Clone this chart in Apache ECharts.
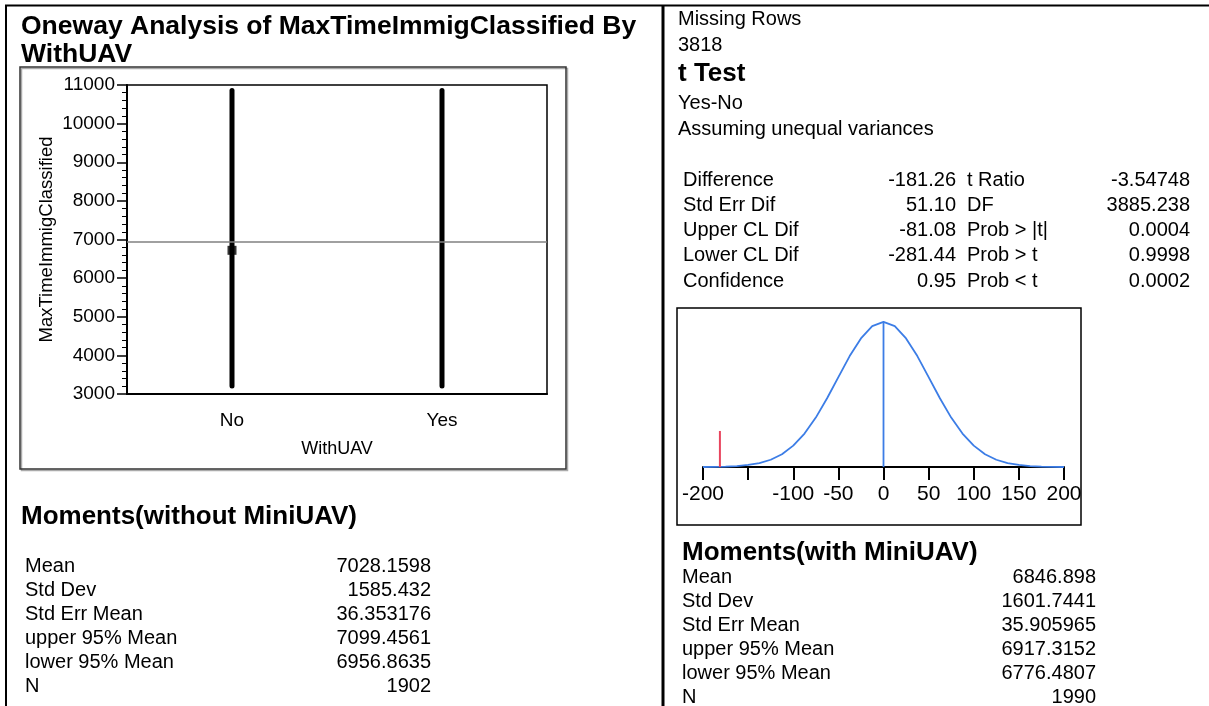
<!DOCTYPE html>
<html><head><meta charset="utf-8">
<script src="https://cdn.jsdelivr.net/npm/echarts@6/dist/echarts.min.js"></script>
<style>html,body{margin:0;padding:0;background:#fff}#c{width:1209px;height:706px}</style>
</head><body><div id="c"></div>
<script>
// ---------- data ----------
const categories = ['No', 'Yes'];
const rangeMin = [3210, 3210];
const rangeMax = [10860, 10860];
const meanMarker = ['No', 6720];
const grandMean = 6940;

const diffX = [-200,-187.5,-175,-162.5,-150,-137.5,-125,-112.5,-100,-87.5,-75,-62.5,-50,-37.5,-25,-12.5,0,
               12.5,25,37.5,50,62.5,75,87.5,100,112.5,125,137.5,150,162.5,175,187.5,200];
const diffDensity = [0,0.00001,0.00002,0.00005,0.00011,0.00021,0.00039,0.00069,0.00115,0.00180,0.00266,0.00370,0.00484,0.00597,0.00692,0.00758,0.00781,
                     0.00758,0.00692,0.00597,0.00484,0.00370,0.00266,0.00180,0.00115,0.00069,0.00039,0.00021,0.00011,0.00005,0.00002,0.00001,0];
const diffTickLabels = {'-200':'-200','-150':'','-100':'-100','-50':'-50','0':'0','50':'50','100':'100','150':'150','200':'200'};
const observedDiff = -181.26;
const observedMarkHeight = 0.00194;
const peakDensity = 0.00781;

const headerLines = ['Missing Rows', '3818'];
const ttestSub = ['Yes-No', 'Assuming unequal variances'];
const ttestLabels1 = ['Difference','Std Err Dif','Upper CL Dif','Lower CL Dif','Confidence'];
const ttestValues1 = ['-181.26','51.10','-81.08','-281.44','0.95'];
const ttestLabels2 = ['t Ratio','DF','Prob > |t|','Prob > t','Prob < t'];
const ttestValues2 = ['-3.54748','3885.238','0.0004','0.9998','0.0002'];
const momentLabels = ['Mean','Std Dev','Std Err Mean','upper 95% Mean','lower 95% Mean','N'];
const momentsWithout = ['7028.1598','1585.432','36.353176','7099.4561','6956.8635','1902'];
const momentsWith = ['6846.898','1601.7441','35.905965','6917.3152','6776.4807','1990'];

// ---------- layout helpers ----------
const FF = '"Liberation Sans", Arial, Helvetica, sans-serif';
function txt(t, x, y, size, opts) {
  opts = opts || {};
  return {type:'text', silent:true, z:10, style:{text:t, x:x, y:y, fontFamily:FF, fontSize:size,
    fontWeight: opts.bold ? 'bold' : 'normal', fill:'#000', align: opts.align || 'left', verticalAlign:'middle'}};
}
function line(x1,y1,x2,y2,w,c){
  return {type:'line', silent:true, z:5, shape:{x1:x1,y1:y1,x2:x2,y2:y2}, style:{stroke:c||'#000', lineWidth:w}};
}

const graphics = [];
// outer frame
graphics.push(line(5,5.5,1209,5.5,2));
graphics.push(line(6,5,6,706,2));
graphics.push(line(663,5,663,706,3));
// left chart box (with light shadow)
graphics.push({type:'rect', silent:true, z:1, shape:{x:21.5,y:68.5,width:546,height:402}, style:{fill:'none', stroke:'#aaa', lineWidth:1.5}});
graphics.push({type:'rect', silent:true, z:2, shape:{x:20,y:67,width:546,height:402}, style:{fill:'none', stroke:'#333', lineWidth:1.5}});
// density box
graphics.push({type:'rect', silent:true, z:2, shape:{x:677,y:308,width:404,height:217}, style:{fill:'none', stroke:'#000', lineWidth:1.5}});

// left titles
graphics.push(txt('Oneway Analysis of MaxTimeImmigClassified By', 21, 27, 26.5, {bold:true}));
graphics.push(txt('WithUAV', 21, 55, 26.5, {bold:true}));
graphics.push(txt('Moments(without MiniUAV)', 21, 517, 26, {bold:true}));
momentLabels.forEach((l,i)=>{
  graphics.push(txt(l, 25, 566 + i*24, 20));
  graphics.push(txt(momentsWithout[i], 431, 566 + i*24, 20, {align:'right'}));
});

// right header
graphics.push(txt(headerLines[0], 678, 19, 20));
graphics.push(txt(headerLines[1], 678, 45, 20));
graphics.push(txt('t Test', 678, 74, 26, {bold:true}));
graphics.push(txt(ttestSub[0], 678, 103, 20));
graphics.push(txt(ttestSub[1], 678, 129, 20));
ttestLabels1.forEach((l,i)=>{
  const y = 180 + i*25.3;
  graphics.push(txt(l, 683, y, 20));
  graphics.push(txt(ttestValues1[i], 956, y, 20, {align:'right'}));
  graphics.push(txt(ttestLabels2[i], 967, y, 20));
  graphics.push(txt(ttestValues2[i], 1190, y, 20, {align:'right'}));
});
graphics.push(txt('Moments(with MiniUAV)', 682, 553, 26, {bold:true}));
momentLabels.forEach((l,i)=>{
  graphics.push(txt(l, 682, 577 + i*24, 20));
  graphics.push(txt(momentsWith[i], 1096, 577 + i*24, 20, {align:'right'}));
});

const chart = echarts.init(document.getElementById('c'), null, {renderer:'canvas'});
chart.setOption({
  animation:false,
  backgroundColor:'#fff',
  textStyle:{fontFamily:FF, color:'#000'},
  grid:[
    {left:127, top:85, width:420, height:309, show:true, borderColor:'#000', borderWidth:1.5, backgroundColor:'transparent'},
    {left:703, top:308, width:361, height:159, show:false}
  ],
  xAxis:[
    {gridIndex:0, type:'category', data:categories, boundaryGap:true,
     axisLine:{lineStyle:{color:'#000', width:2}},
     axisTick:{length:9, lineStyle:{color:'#000', width:1.5}, interval:(i)=> i===1},
     axisLabel:{fontSize:19, color:'#000', margin:17, fontFamily:FF},
     name:'WithUAV', nameLocation:'middle', nameGap:46, nameTextStyle:{fontSize:18, color:'#000', fontFamily:FF}},
    {gridIndex:1, type:'value', min:-200, max:200, interval:50,
     axisLine:{onZero:false, lineStyle:{color:'#000', width:2}},
     axisTick:{length:13, lineStyle:{color:'#000', width:2}},
     splitLine:{show:false},
     axisLabel:{fontSize:21, color:'#000', margin:17, fontFamily:FF, hideOverlap:false,
       showMinLabel:true, showMaxLabel:true, formatter:(v)=> diffTickLabels[String(v)] ?? ''}}
  ],
  yAxis:[
    {gridIndex:0, type:'value', min:3000, max:11000, interval:1000,
     axisLine:{show:true, lineStyle:{color:'#000', width:2}},
     axisTick:{show:true, length:10, lineStyle:{color:'#000', width:1.5}},
     minorTick:{show:true, splitNumber:5, length:5, lineStyle:{color:'#000', width:1}},
     splitLine:{show:false},
     axisLabel:{fontSize:19, color:'#000', margin:12, fontFamily:FF, formatter:(v)=> String(v)},
     name:'MaxTimeImmigClassified', nameLocation:'middle', nameGap:71, nameRotate:90,
     nameTextStyle:{fontSize:18.5, color:'#000', fontFamily:FF}},
    {gridIndex:1, type:'value', min:0, max:0.00856, show:false}
  ],
  series:[
    {type:'line', xAxisIndex:0, yAxisIndex:0, symbol:'none', silent:true,
     data:[[categories[0], rangeMin[0]],[categories[0], rangeMax[0]]],
     lineStyle:{color:'#000', width:5, cap:'round'},
     markLine:{silent:true, symbol:['none','none'], label:{show:false},
       lineStyle:{color:'#808080', width:1.5, type:'solid'}, data:[{yAxis:grandMean}]}},
    {type:'line', xAxisIndex:0, yAxisIndex:0, symbol:'none', silent:true,
     data:[[categories[1], rangeMin[1]],[categories[1], rangeMax[1]]],
     lineStyle:{color:'#000', width:5, cap:'round'}},
    {type:'scatter', xAxisIndex:0, yAxisIndex:0, symbol:'rect', symbolSize:[9,9], silent:true,
     itemStyle:{color:'#000'}, data:[meanMarker]},
    {type:'line', xAxisIndex:1, yAxisIndex:1, symbol:'none', silent:true,
     data: diffX.map((x,i)=>[x, diffDensity[i]]),
     lineStyle:{color:'#3c7de6', width:1.8}},
    {type:'line', xAxisIndex:1, yAxisIndex:1, symbol:'none', silent:true,
     data:[[0,0],[0,peakDensity]], lineStyle:{color:'#3c7de6', width:1.8}},
    {type:'line', xAxisIndex:1, yAxisIndex:1, symbol:'none', silent:true,
     data:[[observedDiff,0],[observedDiff,observedMarkHeight]], lineStyle:{color:'#e8455e', width:2}}
  ],
  graphic: graphics
});
</script></body></html>
